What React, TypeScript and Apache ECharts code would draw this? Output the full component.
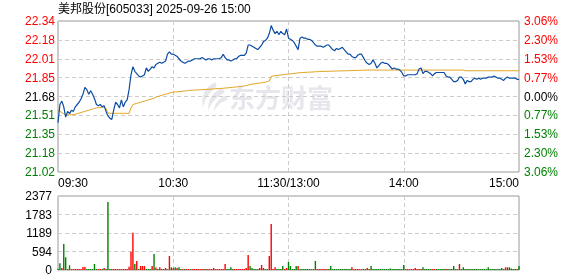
import React, { useEffect, useRef } from 'react';
import * as echarts from 'echarts';

const TITLE = '美邦股份[605033] 2025-09-26 15:00';
const WATERMARK = '东方财富';
const PRICE_MIN = 21.02;
const PRICE_MAX = 22.34;
const PRICE_TICKS = ['21.02', '21.18', '21.35', '21.51', '21.68', '21.85', '22.01', '22.18', '22.34'];
const PCT_TICKS = ['3.06%', '2.30%', '1.53%', '0.77%', '0.00%', '0.77%', '1.53%', '2.30%', '3.06%'];
const VOL_MAX = 2377;
const TIME_LABELS = ['09:30', '10:30', '11:30/13:00', '14:00', '15:00'];
const TIME_TICK_INDEX = [0, 60, 120, 180, 240];

const PRICE = [
  21.45, 21.61, 21.64, 21.59, 21.50, 21.55, 21.53, 21.56, 21.55, 21.59,
  21.61, 21.63, 21.66, 21.70, 21.76, 21.74, 21.70, 21.73, 21.70, 21.66,
  21.61, 21.60, 21.61, 21.59, 21.60, 21.55, 21.51, 21.49, 21.48, 21.56,
  21.63, 21.61, 21.58, 21.65, 21.59, 21.63, 21.65, 21.74, 21.87, 21.94,
  21.90, 21.88, 21.86, 21.85, 21.86, 21.87, 21.93, 21.90, 21.92, 21.94,
  21.93, 21.96, 21.97, 21.98, 21.97, 21.98, 21.99, 22.05, 22.07, 22.05,
  22.05, 22.04, 22.03, 22.01, 21.99, 21.98, 21.97, 21.98, 21.99, 21.99,
  22.00, 22.01, 22.01, 22.01, 22.01, 22.02, 22.01, 22.00, 22.01, 22.01,
  22.00, 22.01, 22.01, 22.01, 22.01, 22.02, 22.05, 22.02, 22.00, 22.00,
  21.99, 22.00, 22.01, 22.01, 22.03, 22.04, 22.04, 22.04, 22.06, 22.13,
  22.13, 22.12, 22.11, 22.10, 22.09, 22.11, 22.13, 22.16, 22.17, 22.19,
  22.23, 22.30, 22.26, 22.23, 22.25, 22.22, 22.25, 22.23, 22.22, 22.27,
  22.19, 22.18, 22.17, 22.15, 22.12, 22.09, 22.19, 22.20, 22.19, 22.19,
  22.18, 22.18, 22.17, 22.15, 22.13, 22.12, 22.12, 22.12, 22.11, 22.12,
  22.13, 22.13, 22.11, 22.09, 22.08, 22.10, 22.09, 22.10, 22.11, 22.09,
  22.07, 22.05, 22.05, 22.03, 22.02, 22.02, 22.04, 22.05, 22.05, 22.02,
  21.99, 21.97, 21.96, 21.97, 22.00, 21.97, 21.93, 21.95, 21.97, 21.98,
  21.97, 21.97, 21.96, 21.94, 21.92, 21.93, 21.92, 21.92, 21.91, 21.89,
  21.86, 21.86, 21.87, 21.87, 21.87, 21.87, 21.87, 21.88, 21.92, 21.93,
  21.88, 21.90, 21.90, 21.89, 21.88, 21.86, 21.88, 21.89, 21.89, 21.89,
  21.89, 21.89, 21.86, 21.85, 21.85, 21.83, 21.81, 21.81, 21.82, 21.85,
  21.85, 21.83, 21.79, 21.82, 21.81, 21.81, 21.83, 21.84, 21.83, 21.84,
  21.83, 21.84, 21.84, 21.84, 21.85, 21.85, 21.85, 21.86, 21.85, 21.84,
  21.84, 21.83, 21.82, 21.84, 21.85, 21.84, 21.84, 21.84, 21.84, 21.83,
  21.83,
];

const AVG = [
  21.56, 21.55, 21.54, 21.53, 21.52, 21.52, 21.52, 21.52, 21.52, 21.525,
  21.53, 21.535, 21.54, 21.545, 21.55, 21.555, 21.56, 21.565, 21.57, 21.575,
  21.58, 21.582, 21.584, 21.585, 21.586, 21.575, 21.535, 21.533, 21.533, 21.533,
  21.533, 21.533, 21.533, 21.533, 21.533, 21.533, 21.533, 21.533, 21.58, 21.61,
  21.615, 21.62, 21.625, 21.63, 21.635, 21.64, 21.645, 21.65, 21.655, 21.66,
  21.665, 21.675, 21.68, 21.685, 21.69, 21.695, 21.70, 21.705, 21.71, 21.715,
  21.718, 21.72, 21.72, 21.722, 21.724, 21.726, 21.728, 21.73, 21.732, 21.734,
  21.735, 21.736, 21.737, 21.738, 21.739, 21.74, 21.741, 21.742, 21.743, 21.744,
  21.745, 21.746, 21.748, 21.749, 21.75, 21.751, 21.752, 21.754, 21.755, 21.757,
  21.758, 21.76, 21.762, 21.764, 21.766, 21.768, 21.77, 21.772, 21.775, 21.78,
  21.785, 21.788, 21.79, 21.793, 21.795, 21.798, 21.80, 21.803, 21.805, 21.81,
  21.815, 21.855, 21.86, 21.862, 21.864, 21.866, 21.868, 21.87, 21.872, 21.874,
  21.876, 21.878, 21.88, 21.882, 21.884, 21.886, 21.888, 21.889, 21.89, 21.891,
  21.892, 21.893, 21.894, 21.895, 21.896, 21.897, 21.898, 21.899, 21.90, 21.90,
  21.90, 21.901, 21.901, 21.902, 21.902, 21.903, 21.903, 21.904, 21.904, 21.905,
  21.905, 21.906, 21.906, 21.907, 21.907, 21.908, 21.908, 21.909, 21.909, 21.91,
  21.91, 21.911, 21.911, 21.911, 21.911, 21.911, 21.911, 21.911, 21.911, 21.911,
  21.911, 21.911, 21.911, 21.911, 21.911, 21.911, 21.911, 21.911, 21.911, 21.911,
  21.911, 21.911, 21.911, 21.911, 21.911, 21.911, 21.911, 21.911, 21.911, 21.911,
  21.911, 21.911, 21.911, 21.911, 21.911, 21.911, 21.911, 21.911, 21.911, 21.911,
  21.911, 21.911, 21.911, 21.911, 21.911, 21.911, 21.911, 21.911, 21.911, 21.911,
  21.911, 21.911, 21.905, 21.905, 21.905, 21.905, 21.905, 21.905, 21.905, 21.905,
  21.905, 21.905, 21.905, 21.905, 21.905, 21.905, 21.905, 21.905, 21.905, 21.905,
  21.905, 21.905, 21.905, 21.905, 21.905, 21.905, 21.905, 21.905, 21.905, 21.905,
  21.905,
];

const VOLUME = [
  40, 214, 64, 835, 407, 30, 150, 30, 30, 30,
  30, 30, 30, 96, 96, 30, 30, 30, 30, 193,
  30, 30, 30, 30, 64, 30, 2183, 30, 30, 30,
  30, 30, 30, 30, 30, 30, 30, 107, 588, 1198,
  193, 289, 30, 128, 128, 128, 30, 30, 30, 128,
  514, 80, 30, 86, 30, 30, 64, 30, 449, 86,
  64, 86, 64, 86, 30, 30, 30, 30, 30, 30,
  30, 30, 30, 30, 30, 30, 30, 30, 30, 30,
  30, 64, 30, 30, 30, 30, 30, 193, 30, 30,
  86, 30, 30, 30, 30, 30, 30, 30, 64, 481,
  128, 64, 30, 30, 30, 64, 160, 64, 30, 30,
  449, 1476, 30, 86, 30, 30, 30, 128, 30, 64,
  257, 128, 30, 30, 128, 128, 30, 30, 30, 30,
  30, 30, 30, 30, 289, 30, 30, 30, 30, 30,
  30, 30, 128, 30, 30, 30, 30, 30, 30, 30,
  30, 30, 30, 86, 30, 30, 30, 30, 30, 30,
  30, 64, 30, 128, 30, 30, 30, 30, 30, 30,
  30, 30, 30, 50, 30, 30, 30, 30, 30, 30,
  160, 30, 30, 30, 30, 30, 64, 30, 30, 30,
  86, 30, 30, 30, 30, 30, 30, 30, 30, 30,
  30, 30, 30, 30, 30, 30, 128, 30, 30, 193,
  30, 86, 30, 30, 30, 30, 30, 30, 30, 30,
  30, 30, 30, 30, 86, 30, 30, 30, 30, 30,
  30, 64, 30, 86, 86, 86, 50, 30, 30, 30,
  128,
];

// r = up (red), g = down (green), one letter per minute
const VOL_DIR =
  'ggrggrgrrr' + 'rrrrrggggg' + 'grrgrgggrr' + 'rrgrrrrrrr' + 'grgrrrgggr' +
  'grgrgrrgrg' + 'rgrggrgrrg' + 'rrrrrrgrrr' + 'rrrrrrrrgg' + 'ggrrrrrrrr' +
  'ggggrrrrgg' + 'rrrrggggrr' + 'gggggrgggg' + 'gggrgrrrrr' + 'rggggggggg' +
  'gggrrrrrrg' + 'grrggggggg' + 'gggggggggg' + 'grrrrrrrrr' + 'gggggrrggg' +
  'ggrgggggrr' + 'gggggggggg' + 'gggggggggg' + 'gggrrggggr' + 'g';

const CATEGORIES = PRICE.map((_, i) => String(i));

const RED = '#ff0000';
const GREEN = '#008000';
const FONT = '"Liberation Sans", "Noto Sans CJK SC", sans-serif';

const LOGO_D =
  'M24 0 C10 6 2 18 6 34 C8 24 14 14 26 6 Z M34 8 C20 14 12 24 14 38 C18 28 24 20 38 14 Z M40 18 C28 22 22 30 22 40 C26 32 32 26 42 24 Z';

let logoRegistered = false;

export default function App() {
  const ref = useRef<HTMLDivElement>(null);
  useEffect(() => {
    if (!ref.current) return;
    let hasLogo = logoRegistered;
    if (!logoRegistered) {
      try {
        echarts.graphic.registerShape('emlogo', echarts.graphic.extendPath(LOGO_D, {}) as any);
        logoRegistered = true;
        hasLogo = true;
      } catch (e) {
        hasLogo = false;
      }
    }
    const chart = echarts.init(ref.current, undefined, { renderer: 'svg' });
    const dashed = { show: true, lineStyle: { color: '#cccccc', type: [4, 3] as any, width: 1 } };
    const vSplit = {
      show: true,
      interval: (index: number) => index === 60 || index === 120 || index === 180,
      lineStyle: { color: '#cccccc', type: [4, 3] as any, width: 1 },
    };
    const priceColor = (_v: any, idx: number) => (idx < 4 ? GREEN : idx === 4 ? '#000000' : RED);
    const graphics: any[] = [
      {
        type: 'text',
        left: 58,
        top: 3,
        z: 10,
        style: { text: TITLE, fill: '#000', font: '12px ' + FONT },
      },
      {
        type: 'text',
        x: 229,
        y: 83,
        z: 0,
        style: {
          text: WATERMARK,
          fill: '#e6e6ec',
          font: 'bold 26px "Noto Sans CJK SC", sans-serif',
        },
      },
    ];
    if (hasLogo) {
      graphics.push({
        type: 'emlogo',
        x: 199,
        y: 82,
        scaleX: 0.68,
        scaleY: 0.75,
        z: 0,
        style: { fill: '#e6e6ec' },
      });
    }
    chart.setOption({
      animation: false,
      textStyle: { fontFamily: FONT },
      graphic: graphics,
      grid: [
        { left: 58, right: 59, top: 21, height: 151, show: true, borderColor: '#999999', borderWidth: 1, backgroundColor: 'transparent' },
        { left: 58, right: 59, top: 196, height: 74, show: true, borderColor: '#999999', borderWidth: 1, backgroundColor: 'transparent' },
      ],
      xAxis: [
        {
          type: 'category',
          gridIndex: 0,
          data: CATEGORIES,
          boundaryGap: false,
          axisLine: { show: false },
          axisTick: { show: false },
          splitLine: vSplit,
          axisLabel: {
            interval: (index: number) => TIME_TICK_INDEX.includes(index),
            formatter: (_v: string, index: number) => {
              const k = TIME_TICK_INDEX.indexOf(index);
              return k >= 0 ? TIME_LABELS[k] : '';
            },
            color: '#000',
            fontSize: 12,
            fontFamily: FONT,
            margin: 5,
            alignMinLabel: 'left',
            alignMaxLabel: 'right',
          },
        },
        {
          type: 'category',
          gridIndex: 1,
          data: CATEGORIES,
          boundaryGap: false,
          axisLine: { show: false },
          axisTick: { show: false },
          axisLabel: { show: false },
          splitLine: vSplit,
        },
      ],
      yAxis: [
        { type: 'value', gridIndex: 0, min: PRICE_MIN, max: PRICE_MAX, show: false, splitLine: { show: false } },
        {
          type: 'value',
          gridIndex: 0,
          position: 'left',
          min: 0,
          max: 8,
          interval: 1,
          axisLine: { show: false },
          axisTick: { show: false },
          splitLine: dashed,
          axisLabel: {
            formatter: (v: number) => PRICE_TICKS[Math.round(v)],
            color: priceColor as any,
            fontSize: 12,
            fontFamily: FONT,
            margin: 3,
          },
        },
        {
          type: 'value',
          gridIndex: 0,
          position: 'right',
          min: 0,
          max: 8,
          interval: 1,
          axisLine: { show: false },
          axisTick: { show: false },
          splitLine: { show: false },
          axisLabel: {
            formatter: (v: number) => PCT_TICKS[Math.round(v)],
            color: priceColor as any,
            fontSize: 12,
            fontFamily: FONT,
            margin: 5,
          },
        },
        {
          type: 'value',
          gridIndex: 1,
          min: 0,
          max: VOL_MAX,
          interval: VOL_MAX / 4,
          axisLine: { show: false },
          axisTick: { show: false },
          splitLine: dashed,
          axisLabel: {
            formatter: (v: number) => String(Math.round(v)),
            color: '#000',
            fontSize: 12,
            fontFamily: FONT,
            margin: 6,
          },
        },
      ],
      series: [
        {
          type: 'line',
          name: 'price',
          xAxisIndex: 0,
          yAxisIndex: 0,
          data: PRICE,
          showSymbol: false,
          lineStyle: { color: '#0b4ca2', width: 1.2 },
          z: 3,
        },
        {
          type: 'line',
          name: 'avg',
          xAxisIndex: 0,
          yAxisIndex: 0,
          data: AVG,
          showSymbol: false,
          lineStyle: { color: '#e0a11c', width: 1 },
          z: 2,
        },
        {
          type: 'bar',
          name: 'volume',
          xAxisIndex: 1,
          yAxisIndex: 3,
          barWidth: 1.4,
          data: VOLUME.map((v, i) => ({ value: v, itemStyle: { color: VOL_DIR[i] === 'r' ? RED : GREEN } })),
        },
      ],
    });
    return () => chart.dispose();
  }, []);
  return <div ref={ref} style={{ position: 'fixed', left: 0, top: 0, width: 578, height: 276 }} />;
}
